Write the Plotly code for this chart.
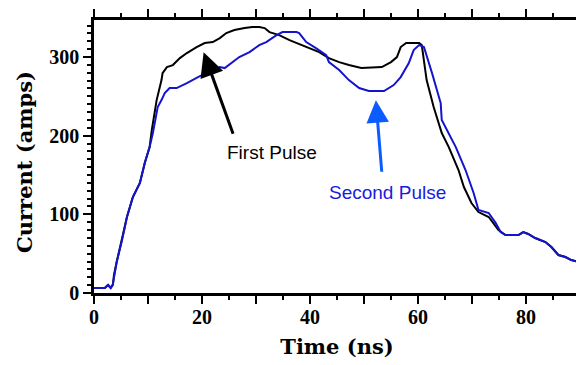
import plotly.graph_objects as go

# First pulse (black)
t_first = [0, 2.0, 2.6, 3.1, 3.5, 3.7, 4.2, 5.0, 6.1, 7.2, 8.5, 9.4, 10.3, 10.7, 11.6, 12.5, 12.7,
           13.5, 14.6, 15.9, 17.2, 19.0, 20.5, 22.0, 23.3, 24.5, 26.0, 27.9, 29.3, 30.6, 31.6,
           32.5, 34.3, 36.2, 38.0, 39.9, 41.7, 43.5, 45.4, 47.2, 49.5, 53.3, 55.0, 56.1, 56.8,
           57.8, 60.2, 60.7, 61.6, 62.9, 64.4, 65.7, 67.5, 68.5, 69.9, 71.2, 73.1, 74.9, 76.2,
           78.6, 79.5, 80.4, 81.7, 83.6, 84.7, 86.0, 87.3, 88.4, 89.7]
i_first = [6.4, 6.4, 10.2, 6.4, 10.2, 22.9, 39.4, 64.8, 96.6, 122.0, 139.8, 165.2, 185.5, 207.1,
           245.2, 270.6, 279.5, 287.2, 289.7, 298.6, 305.0, 312.6, 317.7, 318.9, 324.0, 330.4,
           334.2, 336.7, 338.0, 338.0, 336.7, 331.6, 327.8, 321.5, 316.4, 311.3, 306.2, 298.6,
           293.5, 289.7, 285.9, 287.2, 293.5, 299.9, 312.6, 317.7, 317.7, 315.1, 270.6, 236.3,
           203.3, 185.5, 156.3, 134.7, 114.4, 102.9, 96.6, 80.1, 73.7, 73.7, 77.5, 75.0, 69.9,
           64.8, 58.4, 48.3, 45.7, 41.9, 39.4]

# Second pulse (blue)
t_second = [0, 2.0, 2.6, 3.1, 3.5, 4.2, 5.2, 6.1, 7.2, 8.5, 9.4, 10.3, 10.9, 11.3, 11.8, 12.5,
            13.1, 14.0, 15.3, 17.2, 18.3, 19.6, 21.4, 23.3, 24.2, 25.7, 26.9, 28.8, 30.6, 31.9,
            33.8, 34.9, 37.5, 38.0, 39.3, 41.1, 43.0, 43.5, 45.4, 47.2, 49.1, 50.9, 53.7, 55.5,
            56.8, 58.3, 59.2, 60.2, 61.1, 62.6, 64.2, 64.4, 66.1, 67.0, 68.8, 70.3, 71.2, 73.1,
            74.4, 75.3, 76.2, 78.6, 79.5, 80.4, 81.7, 83.6, 84.7, 86.0, 87.3, 88.4, 89.7]
i_second = [6.4, 6.4, 10.2, 6.4, 11.4, 39.4, 67.3, 96.6, 122.0, 139.8, 165.2, 185.5, 203.3,
            217.3, 236.3, 245.2, 254.1, 260.5, 260.5, 266.8, 270.6, 275.7, 280.8, 287.2, 285.9,
            293.5, 299.9, 306.2, 315.1, 318.9, 327.8, 331.6, 331.6, 330.4, 318.9, 311.3, 302.4,
            293.5, 283.4, 270.6, 260.5, 256.7, 256.7, 264.3, 274.5, 292.2, 308.8, 315.1, 312.6,
            279.5, 241.4, 219.8, 198.2, 185.5, 156.3, 127.1, 105.5, 101.7, 88.9, 77.5, 73.7,
            73.7, 77.5, 75.0, 69.9, 64.8, 58.4, 48.3, 45.7, 41.9, 39.4]

x_tickvals = [0, 10, 20, 30, 40, 50, 60, 70, 80, 90]
x_ticktext = ["0", "", "20", "", "40", "", "60", "", "80", ""]
y_tickvals = [0, 100, 200, 300]
y_ticktext = ["0", "100", "200", "300"]

fig = go.Figure()
fig.add_trace(go.Scatter(x=t_first, y=i_first, mode="lines",
                         line=dict(color="black", width=2), name="First Pulse"))
fig.add_trace(go.Scatter(x=t_second, y=i_second, mode="lines",
                         line=dict(color="#1414cc", width=2), name="Second Pulse"))

tick_font = dict(family="Liberation Serif", size=20, color="black")
title_font = dict(family="DejaVu Serif", size=21, color="black")
ann_font_family = "Liberation Sans"

axis_common = dict(showline=True, linecolor="black", linewidth=2.5, mirror="allticks",
                   ticks="outside", tickcolor="black", tickwidth=2, ticklen=8,
                   showgrid=False, zeroline=False, tickfont=tick_font, automargin=False)

fig.update_xaxes(range=[0, 90], tickmode="array", tickvals=x_tickvals,
                 ticktext=["<b>%s</b>" % s if s else "" for s in x_ticktext],
                 ticklabelstandoff=-4,
                 minor=dict(dtick=5, ticklen=4, tickwidth=2, tickcolor="black", ticks="outside", showgrid=False),
                 title=dict(text="<b>Time (ns)</b>", font=title_font, standoff=13),
                 **axis_common)
fig.update_yaxes(range=[0, 347], tickmode="array", tickvals=y_tickvals,
                 ticktext=["<b>%s</b>" % s for s in y_ticktext],
                 minor=dict(dtick=10, ticklen=4, tickwidth=2, tickcolor="black", ticks="outside", showgrid=False),
                 **axis_common)

# y-axis title placed as rotated text
fig.add_annotation(xref="paper", yref="paper", x=-0.142, y=0.48, xanchor="center", yanchor="middle",
                   text="<b>Current (amps)</b>", textangle=-90, showarrow=False, font=title_font)

fig.add_annotation(x=20.3, y=306, ax=30, ay=83, text="", showarrow=True,
                   arrowhead=2, arrowsize=1.6, arrowwidth=3, arrowcolor="black", standoff=0)
fig.add_annotation(x=52.2, y=245, ax=6, ay=73, text="", showarrow=True,
                   arrowhead=2, arrowsize=1.5, arrowwidth=3, arrowcolor="#0a5cff", standoff=0)
fig.add_annotation(x=33.0, y=179, text="First Pulse", showarrow=False,
                   font=dict(family=ann_font_family, size=19, color="black"))
fig.add_annotation(x=54.4, y=128, text="Second Pulse", showarrow=False,
                   font=dict(family=ann_font_family, size=19, color="#1a1ae0"))

fig.update_layout(width=576, height=357, showlegend=False,
                  margin=dict(l=86, r=4, t=12, b=72),
                  plot_bgcolor="white", paper_bgcolor="white")

fig.write_html("out.html")
